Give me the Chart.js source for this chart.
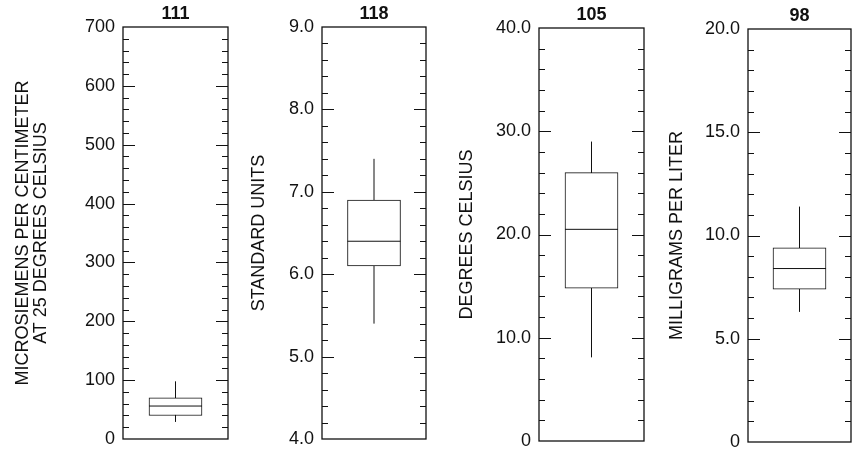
<!DOCTYPE html>
<html>
<head>
<meta charset="utf-8">
<script src="https://cdn.jsdelivr.net/npm/chart.js@4.4.0/dist/chart.umd.min.js"></script>
<style>
  html, body { margin: 0; padding: 0; background: #fff; }
  body { width: 852px; height: 452px; position: relative; overflow: hidden; }
  canvas { position: absolute; top: 0; }
</style>
</head>
<body>
<canvas id="c0"></canvas>
<canvas id="c1"></canvas>
<canvas id="c2"></canvas>
<canvas id="c3"></canvas>
<script>
// number of samples, printed above each box
const counts = ["111", "118", "105", "98"];
const params = ["Specific conductance", "pH", "Water temperature", "Dissolved oxygen"];
const axisTitles = [
  ["MICROSIEMENS PER CENTIMETER", "AT 25 DEGREES CELSIUS"],
  "STANDARD UNITS",
  "DEGREES CELSIUS",
  "MILLIGRAMS PER LITER",
];

// box plot values
const lowWhisker = [29, 5.4, 8.1, 6.3];
const lowQuartile = [40, 6.1, 14.8, 7.4];
const medians = [56, 6.4, 20.5, 8.4];
const highQuartile = [70, 6.9, 26.0, 9.4];
const highWhisker = [98, 7.4, 29.0, 11.4];

// axes
const axisMin = [0, 4, 0, 0];
const axisMax = [700, 9, 40, 20];
const majorTicks = [
  [0, 100, 200, 300, 400, 500, 600, 700],
  [4, 5, 6, 7, 8, 9],
  [0, 10, 20, 30, 40],
  [0, 5, 10, 15, 20],
];
const tickLabels = [
  ["0", "100", "200", "300", "400", "500", "600", "700"],
  ["4.0", "5.0", "6.0", "7.0", "8.0", "9.0"],
  ["0", "10.0", "20.0", "30.0", "40.0"],
  ["0", "5.0", "10.0", "15.0", "20.0"],
];
const minorStep = [20, 0.2, 2, 1];

// where each panel sits on the page
const frames = [
  { canvasLeft: 0, left: 123, right: 228, top: 27, bottom: 439, titleX: 23.5 },
  { canvasLeft: 236, left: 322, right: 426, top: 27, bottom: 439, titleX: 259 },
  { canvasLeft: 444, left: 539, right: 644, top: 28, bottom: 441, titleX: 467.5 },
  { canvasLeft: 654, left: 748, right: 851, top: 29, bottom: 442, titleX: 677.5 },
];

const FONT = "'Liberation Sans', Arial, Helvetica, sans-serif";
const INK = "#111";

// frame around the plot, inward tick marks on both sides, and the count on top
const framePlugin = {
  id: "frame",
  afterDatasetsDraw(chart, args, opts) {
    const { ctx, chartArea: a } = chart;
    const y = chart.scales.y;
    ctx.save();
    ctx.strokeStyle = INK;
    ctx.lineWidth = 1.3;
    ctx.strokeRect(a.left, a.top, a.right - a.left, a.bottom - a.top);

    ctx.lineWidth = 1;
    ctx.beginPath();
    const n = Math.round((y.max - y.min) / opts.minor);
    for (let k = 1; k < n; k++) {
      const v = y.min + k * opts.minor;
      const major = opts.majors.some((m) => Math.abs(m - v) < 1e-6);
      const len = major ? 12 : 6;
      const py = Math.round(y.getPixelForValue(v)) + 0.5;
      ctx.moveTo(a.left, py);
      ctx.lineTo(a.left + len, py);
      ctx.moveTo(a.right, py);
      ctx.lineTo(a.right - len, py);
    }
    ctx.stroke();

    ctx.fillStyle = INK;
    ctx.font = "bold 18px " + FONT;
    ctx.textAlign = "center";
    ctx.textBaseline = "alphabetic";
    ctx.fillText(opts.count, (a.left + a.right) / 2, a.top - 8);
    ctx.restore();
  },
};

for (let i = 0; i < 4; i++) {
  const f = frames[i];
  const canvas = document.getElementById("c" + i);
  canvas.width = f.right - f.canvasLeft + 2;
  canvas.height = 452;
  canvas.style.left = f.canvasLeft + "px";

  new Chart(canvas, {
    type: "bar",
    data: {
      labels: [params[i]],
      datasets: [
        {
          type: "line",
          data: [{ x: params[i], y: medians[i] }],
          showLine: false,
          pointStyle: "line",
          pointRadius: 26.5,
          pointHoverRadius: 26.5,
          pointBorderWidth: 1,
          pointBorderColor: INK,
        },
        {
          type: "bar",
          data: [[lowQuartile[i], highQuartile[i]]],
          backgroundColor: "#fff",
          borderColor: INK,
          borderWidth: 1,
          borderSkipped: false,
          barThickness: 53,
        },
        {
          type: "line",
          data: [
            { x: params[i], y: lowWhisker[i] },
            { x: params[i], y: highWhisker[i] },
          ],
          borderColor: INK,
          borderWidth: 1,
          pointRadius: 0,
        },
      ],
    },
    options: {
      responsive: false,
      animation: false,
      layout: {
        autoPadding: false,
        padding: { left: 0, right: 2, top: f.top, bottom: 452 - f.bottom },
      },
      plugins: {
        legend: { display: false },
        tooltip: { enabled: false },
        frame: { minor: minorStep[i], majors: majorTicks[i], count: counts[i] },
      },
      scales: {
        x: { display: false },
        y: {
          min: axisMin[i],
          max: axisMax[i],
          afterFit: (s) => {
            s.width = f.left - f.canvasLeft;
            s.paddingTop = 0;
            s.paddingBottom = 0;
          },
          afterBuildTicks: (s) => { s.ticks = majorTicks[i].map((v) => ({ value: v })); },
          grid: { display: false, drawTicks: false },
          border: { display: false },
          ticks: {
            padding: 8,
            color: INK,
            font: { family: FONT, size: 18 },
            callback: (v, idx) => tickLabels[i][idx],
          },
          title: {
            display: true,
            text: axisTitles[i],
            color: INK,
            font: { family: FONT, size: 18, lineHeight: 1 },
            padding: { top: f.titleX - f.canvasLeft - 9, bottom: 0 },
          },
        },
      },
    },
    plugins: [framePlugin],
  });
}
</script>
</body>
</html>
